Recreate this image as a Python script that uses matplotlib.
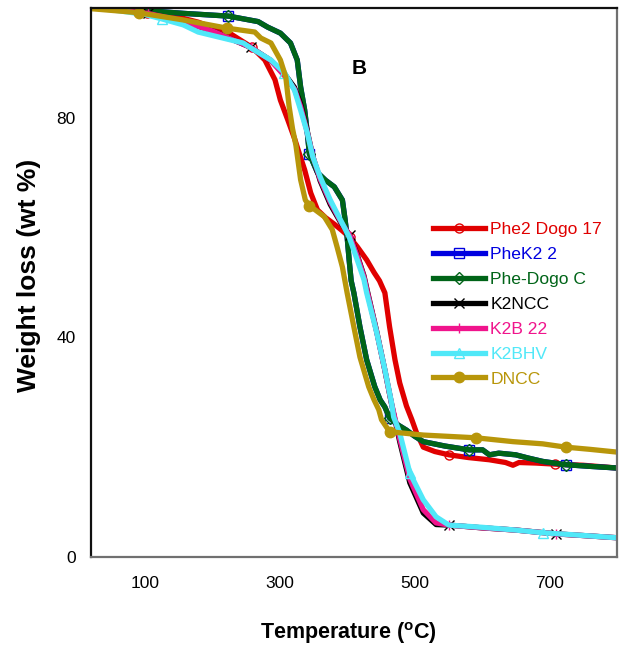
import matplotlib
import matplotlib.pyplot as plt
import numpy as np

matplotlib.use("Agg")

plt.rcParams["font.family"] = ["Liberation Sans", "DejaVu Sans"]
plt.rcParams["mathtext.fontset"] = "custom"
plt.rcParams["mathtext.bf"] = "Liberation Sans:bold"
plt.rcParams["mathtext.rm"] = "Liberation Sans"

# TGA curves, temperature (C) vs remaining weight (wt %)
red_t = [25, 60, 103, 150, 179, 228, 259, 278, 293, 301, 312, 322, 329, 337, 346, 356, 368, 381,
         392, 404, 415, 429, 440, 448, 456, 463, 471, 478, 488, 496, 503, 513, 530, 551, 580, 611,
         635, 646, 655, 680, 709, 750, 800]
red_w = [100, 99.8, 99.1, 98.3, 97.4, 95.2, 92.8, 90.5, 86.9, 83.2, 79.6, 76.2, 73.5, 70.5, 66.3,
         63.2, 61.8, 60.6, 59.5, 58.2, 56.5, 54.1, 51.8, 50.3, 48.1, 41.9, 35.9, 31.7, 27.5, 25.0,
         22.6, 20.0, 19.2, 18.6, 18.1, 17.7, 17.2, 16.7, 17.2, 17.1, 16.9, 16.7, 16.2]

green_t = [25, 60, 91, 157, 224, 268, 282, 301, 316, 326, 331, 337, 341, 344, 356, 368, 381, 393,
           397, 400, 403, 406, 410, 419, 429, 441, 449, 456, 463, 476, 488, 500, 513, 545, 581,
           601, 611, 625, 650, 669, 690, 724, 760, 800]
green_w = [100, 99.8, 99.6, 99.0, 98.5, 97.5, 96.5, 95.4, 93.6, 90.5, 85.6, 81.4, 77.2, 73.4,
           70.0, 68.6, 67.4, 65.0, 61.4, 58.3, 54.1, 50.3, 48.1, 41.9, 35.9, 31.0, 28.6, 27.3,
           25.3, 24.0, 23.1, 22.0, 21.0, 20.2, 19.5, 19.5, 18.6, 18.9, 18.6, 18.0, 17.4, 16.8,
           16.5, 16.2]

gold_t = [25, 74, 91, 157, 222, 263, 272, 287, 301, 309, 314, 319, 324, 331, 338, 344, 366, 378,
          385, 393, 400, 410, 419, 432, 440, 447, 451, 463, 513, 591, 646, 690, 724, 760, 800]
gold_w = [99.8, 99.3, 99.1, 97.8, 96.3, 95.6, 94.5, 93.6, 90.5, 87.4, 82.0, 78.0, 75.0, 68.7,
          65.0, 64.0, 62.0, 59.6, 56.5, 52.8, 48.1, 41.9, 36.4, 31.0, 28.6, 26.8, 25.0, 22.8,
          22.2, 21.7, 21.0, 20.6, 20.0, 19.6, 19.1]

cyan_t = [25, 60, 100, 125, 157, 179, 246, 257, 287, 307, 322, 331, 341, 349, 360, 375, 390, 403,
          415, 425, 429, 444, 456, 466, 469, 478, 493, 513, 532, 551, 600, 650, 691, 740, 800]
cyan_w = [100, 99.5, 98.8, 98.0, 96.9, 95.6, 93.6, 92.7, 90.5, 88.2, 85.0, 81.4, 77.2, 72.9, 69.2,
          65.0, 61.4, 58.3, 54.1, 50.5, 48.1, 40.8, 34.1, 28.0, 25.5, 22.6, 15.3, 10.4, 7.3, 5.8,
          5.4, 4.9, 4.4, 4.0, 3.5]

black_t = [25, 60, 104, 150, 200, 257, 287, 310, 322, 331, 341, 349, 360, 375, 390, 404, 415, 425,
           429, 444, 456, 466, 478, 493, 513, 532, 551, 600, 650, 710, 750, 800]
black_w = [100, 99.6, 99.0, 97.8, 95.8, 92.8, 90.4, 87.5, 85.5, 82.5, 77.5, 73.0, 68.5, 64.2,
           61.0, 58.6, 55.0, 51.2, 49.0, 41.0, 34.0, 27.8, 21.0, 13.5, 8.0, 5.9, 5.8, 5.3, 4.9,
           4.2, 3.9, 3.5]

pink_t = [25, 60, 104, 150, 200, 257, 287, 310, 322, 331, 341, 349, 360, 375, 390, 404, 415, 425,
          429, 444, 456, 466, 478, 493, 513, 532, 551, 600, 650, 710, 750, 800]
pink_w = [100, 99.6, 99.0, 97.8, 95.8, 92.8, 90.4, 87.2, 85.2, 82.0, 77.3, 73.0, 68.8, 64.6,
          61.2, 58.5, 54.8, 51.0, 48.8, 40.9, 34.0, 27.9, 21.5, 14.2, 8.6, 6.2, 5.8, 5.3, 4.9,
          4.2, 3.9, 3.5]

series = [
    ("Phe2 Dogo 17", red_t, red_w, "#e00000", "o", [103, 259, 404, 551, 709]),
    ("PheK2 2", green_t, green_w, "#0000e0", "s", [91, 224, 344, 463, 591, 724]),
    ("Phe-Dogo C", green_t, green_w, "#006418", "D", [91, 224, 344, 463, 591, 724]),
    ("K2NCC", black_t, black_w, "#000000", "x", [104, 257, 404, 551, 710]),
    ("K2B 22", pink_t, pink_w, "#f0148c", "+", [104, 257, 404, 551, 710]),
    ("K2BHV", cyan_t, cyan_w, "#50e8f8", "^", [125, 312, 491, 691]),
    ("DNCC", gold_t, gold_w, "#b8960a", "o", [91, 222, 344, 463, 591, 724]),
]

fig = plt.figure(figsize=(6.23, 6.56), dpi=100)
ax = fig.add_axes([0.146, 0.151, 0.844, 0.837])

for name, t, w, color, marker, mark_t in series:
    t = np.asarray(t, dtype=float)
    w = np.asarray(w, dtype=float)
    idx = [int(np.argmin(np.abs(t - m))) for m in mark_t]
    filled = name == "DNCC"
    ax.plot(t, w, color=color, lw=3.8, marker=marker, markevery=idx,
            ms=7.5 if filled else 6.5,
            mfc=color if filled else "none", mec=color, mew=1.0,
            solid_joinstyle="round", label=name)

ax.set_xlim(20, 800)
ax.set_ylim(0, 100)
ax.set_xticks([100, 300, 500, 700])
ax.set_yticks([0, 40, 80])
ax.tick_params(length=0, labelsize=12.5)
ax.tick_params(axis="x", pad=14)
ax.tick_params(axis="y", pad=11)

for side in ["top", "left"]:
    ax.spines[side].set_color("#101010")
for side in ["right", "bottom"]:
    ax.spines[side].set_color("#707070")
for s in ax.spines.values():
    s.set_linewidth(1.6)

ax.set_xlabel(r"Temperature ($\mathbf{^o}$C)", fontsize=15.5, fontweight="bold")
ax.xaxis.set_label_coords(0.489, -0.115)
ax.set_ylabel("Weight loss (wt %)", fontsize=19, fontweight="bold")
ax.yaxis.set_label_coords(-0.095, 0.513)

ax.text(418, 89, "B", fontsize=15, fontweight="bold", ha="center", va="center")

leg = ax.legend(loc="upper left", bbox_to_anchor=(0.65, 0.61), frameon=False,
                fontsize=12.6, handlelength=3.0, handletextpad=0.3, labelspacing=0.55,
                borderpad=0, borderaxespad=0)
for txt, line in zip(leg.get_texts(), leg.get_lines()):
    txt.set_color(line.get_color())

fig.savefig("out.png", dpi=100)
